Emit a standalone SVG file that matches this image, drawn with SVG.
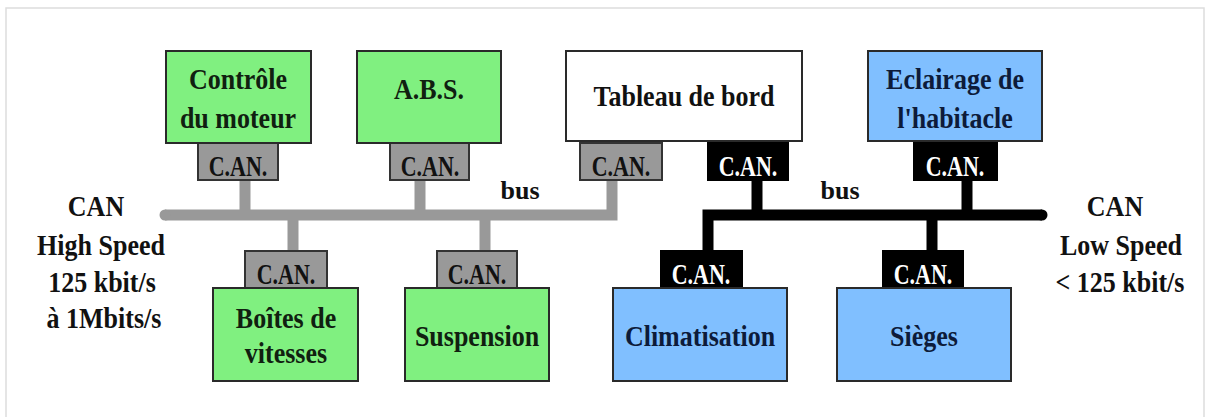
<svg xmlns="http://www.w3.org/2000/svg" width="1216" height="417" viewBox="0 0 1216 417">
<style>
.box{stroke:#2a2a2a;stroke-width:2}
.green{fill:#80f080}
.blue{fill:#80bfff}
.white{fill:#ffffff}
.cang{fill:#999999;stroke:#333;stroke-width:2}
.canb{fill:#000000;stroke:#000;stroke-width:2}
.t{font-family:"Liberation Serif","Times New Roman",serif;font-weight:bold;font-size:26px;text-anchor:middle}
.tg{fill:#102010}
.tb{fill:#0d1b3a}
.tk{fill:#111}
.cl{font-family:"Liberation Serif","Times New Roman",serif;font-weight:bold;font-size:22px;text-anchor:middle}
.gbus{fill:none;stroke:#999999;stroke-width:11}
.bbus{fill:none;stroke:#000;stroke-width:11}
</style>
<rect x="0" y="0" width="1216" height="417" fill="#ffffff"/>
<path d="M6 425 V8 H1204 V425" fill="none" stroke="#dddddd" stroke-width="1.5"/>

<g id="connectors">
  <path class="gbus" d="M165 215 H612 V180" stroke-linecap="butt"/>
  <circle cx="165" cy="215" r="5.5" fill="#999999"/>
  <line class="gbus" x1="245" y1="180" x2="245" y2="215" stroke-width="10"/>
  <line class="gbus" x1="420" y1="180" x2="420" y2="215" stroke-width="10"/>
  <line class="gbus" x1="293" y1="215" x2="293" y2="251" stroke-width="10"/>
  <line class="gbus" x1="485" y1="215" x2="485" y2="251" stroke-width="10"/>
  <path class="bbus" d="M708 251 V215 H1042"/>
  <circle cx="1042" cy="215" r="5.5" fill="#000"/>
  <line class="bbus" x1="757" y1="180" x2="757" y2="215" stroke-width="10"/>
  <line class="bbus" x1="967" y1="180" x2="967" y2="215" stroke-width="10"/>
  <line class="bbus" x1="932" y1="215" x2="932" y2="251" stroke-width="10"/>
</g>

<g id="controle">
  <rect class="cang" x="198" y="143" width="80" height="37"/>
  <text class="cl tk" transform="translate(238 176) scale(1 1.35)">C.AN.</text>
  <rect class="box green" x="166" y="51" width="145" height="92"/>
  <text class="t tg" transform="translate(238 89) scale(1 1.12)">Contrôle</text>
  <text class="t tg" transform="translate(238 128) scale(1 1.12)">du moteur</text>
</g>

<g id="abs">
  <rect class="cang" x="390" y="143" width="79" height="37"/>
  <text class="cl tk" transform="translate(430 176) scale(1 1.35)">C.AN.</text>
  <rect class="box green" x="357" y="51" width="144" height="92"/>
  <text class="t tg" transform="translate(429 99) scale(1 1.12)">A.B.S.</text>
</g>

<g id="tableau">
  <rect class="cang" x="580" y="143" width="82" height="37"/>
  <text class="cl tk" transform="translate(621 176) scale(1 1.35)">C.AN.</text>
  <rect class="canb" x="708" y="141" width="80" height="39"/>
  <text class="cl" fill="#ffffff" transform="translate(748 176) scale(1 1.35)">C.AN.</text>
  <rect class="box white" x="566" y="51" width="236" height="90"/>
  <text class="t tk" transform="translate(684 106) scale(1 1.12)">Tableau de bord</text>
</g>

<g id="eclairage">
  <rect class="canb" x="914" y="141" width="83" height="39"/>
  <text class="cl" fill="#ffffff" transform="translate(955 176) scale(1 1.35)">C.AN.</text>
  <rect class="box blue" x="868" y="51" width="174" height="90"/>
  <text class="t tb" transform="translate(955 89) scale(1 1.12)">Eclairage de</text>
  <text class="t tb" transform="translate(955 128) scale(1 1.12)">l'habitacle</text>
</g>

<g id="boites">
  <rect class="cang" x="245" y="251" width="82" height="37"/>
  <text class="cl tk" transform="translate(286 284) scale(1 1.35)">C.AN.</text>
  <rect class="box green" x="213" y="288" width="145" height="93"/>
  <text class="t tg" transform="translate(286 328) scale(1 1.12)">Boîtes de</text>
  <text class="t tg" transform="translate(286 363) scale(1 1.12)">vitesses</text>
</g>

<g id="suspension">
  <rect class="cang" x="437" y="251" width="80" height="37"/>
  <text class="cl tk" transform="translate(477 284) scale(1 1.35)">C.AN.</text>
  <rect class="box green" x="405" y="288" width="144" height="93"/>
  <text class="t tg" transform="translate(477 346) scale(1 1.12)">Suspension</text>
</g>

<g id="climatisation">
  <rect class="canb" x="661" y="251" width="81" height="37"/>
  <text class="cl" fill="#ffffff" transform="translate(701 284) scale(1 1.35)">C.AN.</text>
  <rect class="box blue" x="613" y="288" width="174" height="93"/>
  <text class="t tb" transform="translate(700 346) scale(1 1.12)">Climatisation</text>
</g>

<g id="sieges">
  <rect class="canb" x="883" y="251" width="80" height="37"/>
  <text class="cl" fill="#ffffff" transform="translate(923 284) scale(1 1.35)">C.AN.</text>
  <rect class="box blue" x="837" y="288" width="174" height="93"/>
  <text class="t tb" transform="translate(924 346) scale(1 1.12)">Sièges</text>
</g>

<g id="labels">
  <text class="t tk" x="520" y="199">bus</text>
  <text class="t tk" x="840" y="199">bus</text>
  <g id="high-speed" class="t tk">
    <text transform="translate(96 216) scale(1 1.12)">CAN</text>
    <text transform="translate(101 255) scale(1 1.12)">High Speed</text>
    <text transform="translate(102 292) scale(1 1.12)">125 kbit/s</text>
    <text transform="translate(104 328) scale(1 1.12)">à 1Mbits/s</text>
  </g>
  <g id="low-speed" class="t tk">
    <text transform="translate(1115 216) scale(1 1.12)">CAN</text>
    <text transform="translate(1121 255) scale(1 1.12)">Low Speed</text>
    <text transform="translate(1120 292) scale(1 1.12)">&lt; 125 kbit/s</text>
  </g>
</g>
</svg>
